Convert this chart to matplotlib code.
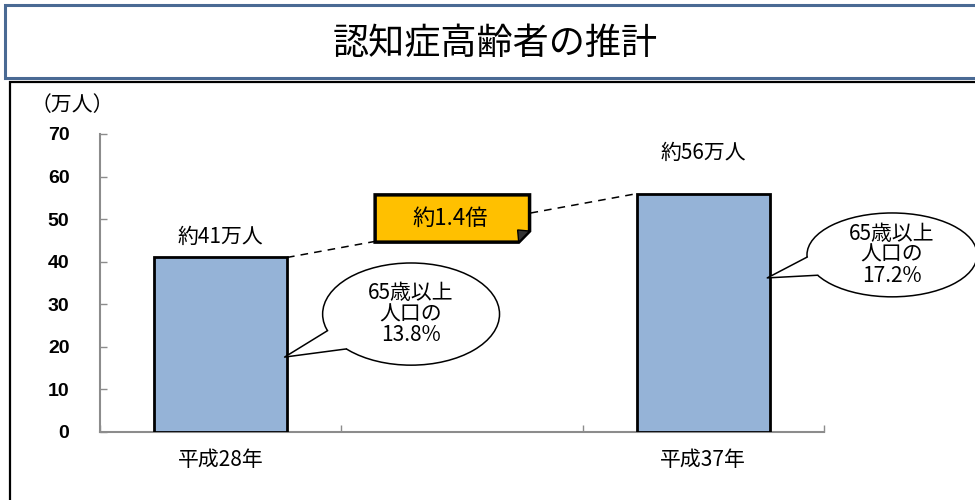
import numpy as np
import matplotlib
matplotlib.use('Agg')
import matplotlib.pyplot as plt
from matplotlib.patches import Rectangle, Ellipse, Polygon

plt.rcParams['font.family'] = ['Noto Sans CJK JP', 'DejaVu Sans']

# data
categories = ['平成28年', '', '平成37年']
values = [41, np.nan, 56]
value_labels = ['約41万人', '', '約56万人']
share_labels = ['65歳以上\n人口の\n13.8%', '', '65歳以上\n人口の\n17.2%']
ratio_label = '約1.4倍'
yticks = [0, 10, 20, 30, 40, 50, 60, 70]

bar_w = 0.55
bar_color = '#95B3D7'
axis_grey = '#8c8c8c'

fig = plt.figure(figsize=(9.75, 5), dpi=100)

# title box and chart frame
fig.patches.append(Rectangle((5 / 975, 1 - 78 / 500), 1.2, 73 / 500, transform=fig.transFigure,
                             facecolor='white', edgecolor='#4a6a94', lw=2.2, zorder=-2))
fig.patches.append(Rectangle((10 / 975, -0.2), 1.2, 1.2 - 82 / 500, transform=fig.transFigure,
                             facecolor='white', edgecolor='black', lw=1.6, zorder=-2))
fig.text(495 / 975, 1 - 44 / 500, '認知症高齢者の推計', ha='center', va='center',
         fontsize=26, fontweight='normal')

ax = fig.add_axes([100 / 975, 1 - 432 / 500, 724 / 975, 298 / 500])
ax.set_zorder(2)
ax.set_facecolor('none')
x = np.arange(len(categories))
ax.bar(x, values, width=bar_w, color=bar_color, edgecolor='black', lw=2, zorder=3)
ax.set_xlim(-0.5, 2.5)
ax.set_ylim(0, 70)
ax.set_yticks(yticks)
ax.set_yticklabels([str(v) for v in yticks], fontsize=14, fontweight='bold', family='Liberation Sans')
ax.set_xticks([-0.5, 0.5, 1.5, 2.5])
ax.set_xticklabels([])
ax.tick_params(axis='both', direction='in', color=axis_grey, length=5, width=1)
ax.tick_params(axis='y', pad=22)
for i, c in enumerate(categories):
    if c:
        ax.text(i, -6.5, c, ha='center', va='center', fontsize=15, clip_on=False)
for side in ['top', 'right']:
    ax.spines[side].set_visible(False)
for side in ['left', 'bottom']:
    ax.spines[side].set_color(axis_grey)
    ax.spines[side].set_linewidth(1.5)

ax.text(-0.616, 76.8, '（万人）', ha='center', va='center', fontsize=15, clip_on=False)

# value labels above bars
label_off = [4.8, 0, 9.5]
for i, (v, lab) in enumerate(zip(values, value_labels)):
    if lab:
        ax.text(i, v + label_off[i], lab, ha='center', va='center', fontsize=15)

# dashed connector between bar tops
ax.plot([0 + bar_w / 2, 2 - bar_w / 2], [values[0], values[2]], ls=(0, (5, 4)),
        color='black', lw=1.1, zorder=2)

# ratio box with folded corner
bx0, bx1, by0, by1 = 0.64, 1.28, 44.6, 55.7
fx, fy = 0.045, 2.6
box = Polygon([(bx0, by0), (bx1 - fx, by0), (bx1, by0 + fy), (bx1, by1), (bx0, by1)],
              closed=True, facecolor='#FFC000', edgecolor='black', lw=2.5, zorder=5)
ax.add_patch(box)
ax.add_patch(Polygon([(bx1 - fx, by0), (bx1, by0 + fy), (bx1 - fx * 1.1, by0 + fy * 1.1)],
                     closed=True, facecolor='#333333', edgecolor='black', lw=1, zorder=6))
ax.text((bx0 + bx1) / 2 - 0.01, (by0 + by1) / 2, ratio_label, ha='center', va='center',
        fontsize=16, zorder=7)


def bubble(cx, cy, w, h, a1, a2, tip, text):
    ax.add_patch(Ellipse((cx, cy), w, h, facecolor='white', edgecolor='black', lw=1.1,
                         zorder=5, clip_on=False))
    p1 = (cx + w / 2 * np.cos(np.radians(a1)), cy + h / 2 * np.sin(np.radians(a1)))
    p2 = (cx + w / 2 * np.cos(np.radians(a2)), cy + h / 2 * np.sin(np.radians(a2)))
    pin1 = (cx + 0.45 * w * np.cos(np.radians(a1)), cy + 0.45 * h * np.sin(np.radians(a1)))
    pin2 = (cx + 0.45 * w * np.cos(np.radians(a2)), cy + 0.45 * h * np.sin(np.radians(a2)))
    ax.add_patch(Polygon([tip, p1, pin1, pin2, p2], closed=True, facecolor='white',
                         edgecolor='none', zorder=6, clip_on=False))
    ax.plot([p1[0], tip[0], p2[0]], [p1[1], tip[1], p2[1]], color='black', lw=1.1,
            zorder=7, clip_on=False)
    ax.text(cx, cy, text, ha='center', va='center', fontsize=15, linespacing=0.95,
            zorder=8, clip_on=False)


bubble(0.789, 27.7, 0.733, 24.0, 199, 223, (0 + bar_w / 2 - 0.01, 17.6), share_labels[0])
bubble(2.782, 41.6, 0.705, 19.7, 183, 209, (2 + bar_w / 2 - 0.01, 36.2), share_labels[2])

fig.savefig('out.png', dpi=100)
